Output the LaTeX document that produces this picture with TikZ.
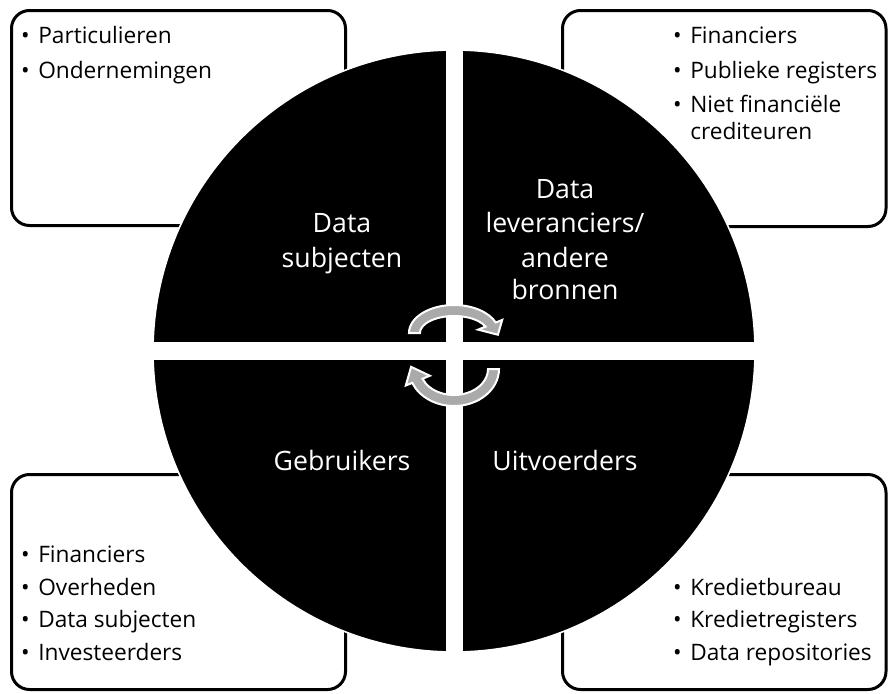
\documentclass[tikz,border=0pt]{standalone}
\usepackage{fontspec}
\setmainfont{Open Sans}
\definecolor{arrowgray}{RGB}{170,170,170}
\newcommand{\itembul}{\llap{•\hspace{6.5pt}}}
\begin{document}
\begin{tikzpicture}[x=0.75pt,y=-0.75pt,
  box/.style={draw=black, line width=2.25pt, rounded corners=13.5pt, fill=white},
  item/.style={anchor=base west, inner sep=0pt, font=\fontsize{17}{20}\selectfont},
  qlabel/.style={anchor=base, inner sep=0pt, text=white, font=\fontsize{20}{24}\selectfont},
  cyc/.style={fill=arrowgray, draw=white, line width=1.5pt, line join=miter}]
\useasboundingbox (0,0) rectangle (888,693);

% boxes
\draw[box] (11.5,10.5) rectangle (345.5,225.5);
\draw[box] (562.5,10.5) rectangle (886,226.5);
\draw[box] (11.5,474.5) rectangle (345.5,689.5);
\draw[box] (562.5,474.5) rectangle (886,689.5);

% circle and cross
\fill[black, draw=white, line width=1.2pt] (454,351) circle [radius=301];
\fill[white] (445.5,40) rectangle (462.5,662);
\fill[white] (143,342) rectangle (765,360);

% box texts
\node[item] (tl1) at (38,43) {\itembul Particulieren};
\node[item] (tl2) at (38,78) {\itembul Ondernemingen};

\node[item] (tr1) at (690,43) {\itembul Financiers};
\node[item] (tr2) at (690,78) {\itembul Publieke registers};
\node[item] (tr3) at (690,112) {\itembul Niet financiële};
\node[item] (tr4) at (690,139) {crediteuren};

\node[item] (bl1) at (38,562) {\itembul Financiers};
\node[item] (bl2) at (38,595) {\itembul Overheden};
\node[item] (bl3) at (38,627) {\itembul Data subjecten};
\node[item] (bl4) at (38,660) {\itembul Investeerders};

\node[item] (br1) at (690,595) {\itembul Kredietbureau};
\node[item] (br2) at (690,627) {\itembul Kredietregisters};
\node[item] (br3) at (690,660) {\itembul Data repositories};

% quadrant labels
\node[qlabel] (ds1) at (342,232) {Data};
\node[qlabel] (ds2) at (342,267) {subjecten};
\node[qlabel] (dl1) at (565,198) {Data};
\node[qlabel] (dl2) at (565,232) {leveranciers/};
\node[qlabel] (dl3) at (565,267) {andere};
\node[qlabel] (dl4) at (565,299) {bronnen};
\node[qlabel] (gb) at (342,470) {Gebruikers};
\node[qlabel] (uv) at (565,470) {Uitvoerders};

% circular arrows
\begin{scope}[shift={(454,333)}]
\filldraw[cyc] (180:45 and 28) arc[start angle=180, end angle=338, x radius=45, y radius=28]
  -- (338:52 and 35) -- (4:44 and 25) -- (338:26 and 9) -- (338:34 and 17)
  arc[start angle=338, end angle=180, x radius=34, y radius=17] -- cycle;
\end{scope}
\begin{scope}[shift={(454,369)}]
\filldraw[cyc] (0:45 and 37) arc[start angle=0, end angle=158, x radius=45, y radius=37]
  -- (158:52 and 44) -- (184:43 and 31) -- (158:26 and 18) -- (158:34 and 26)
  arc[start angle=158, end angle=0, x radius=34, y radius=26] -- cycle;
\end{scope}
\end{tikzpicture}
\end{document}
